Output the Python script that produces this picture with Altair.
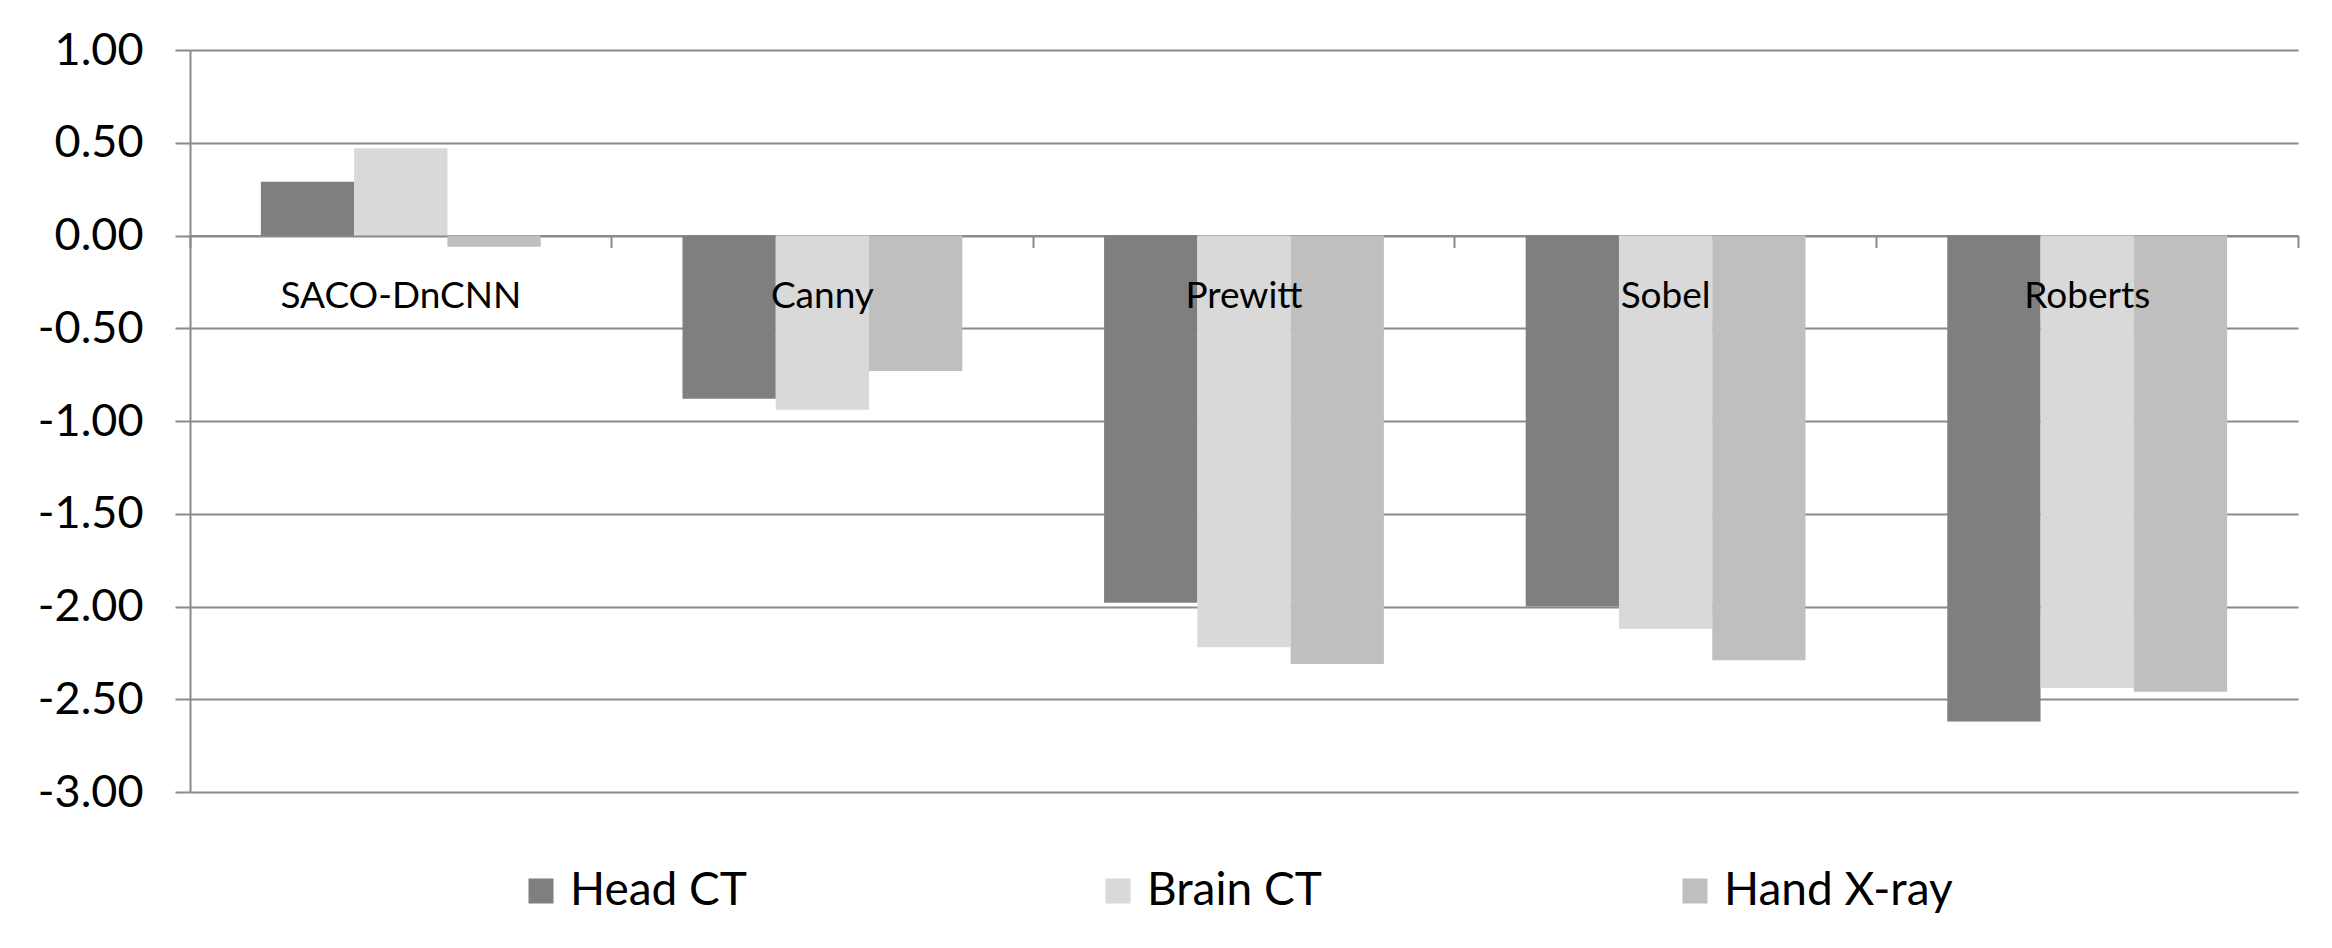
import altair as alt
import pandas as pd

categories = ["SACO-DnCNN", "Canny", "Prewitt", "Sobel", "Roberts"]
series = ["Head CT", "Brain CT", "Hand X-ray"]
head_ct = [0.29, -0.88, -1.98, -2.00, -2.62]
brain_ct = [0.47, -0.94, -2.22, -2.12, -2.44]
hand_xray = [-0.06, -0.73, -2.31, -2.29, -2.46]
colors = ["#7f7f7f", "#d9d9d9", "#bfbfbf"]
y_ticks = [1.0, 0.5, 0.0, -0.5, -1.0, -1.5, -2.0, -2.5, -3.0]

rows = []
for name, vals in zip(series, [head_ct, brain_ct, hand_xray]):
    for c, v in zip(categories, vals):
        rows.append({"Method": c, "Series": name, "Value": v})
df = pd.DataFrame(rows)
cat_df = pd.DataFrame({"Method": categories})

FONT = "Lato"
GRID = "#8a8a8a"
W, H = 2108, 742
zero_offset = -(H - H * 1.0 / 4.0)

x_scale = alt.Scale(domain=categories, paddingInner=0, paddingOuter=0)

bars = alt.Chart(df).mark_bar().encode(
    x=alt.X("Method:N", scale=x_scale, sort=categories,
            axis=alt.Axis(title=None, labels=False, orient="bottom", offset=zero_offset,
                          domain=True, domainColor=GRID, domainWidth=2,
                          ticks=True, tickSize=12, tickColor=GRID, tickWidth=2,
                          bandPosition=1, tickExtra=True, grid=False)),
    xOffset=alt.XOffset("Series:N", sort=series,
                        scale=alt.Scale(domain=series, paddingInner=0, paddingOuter=0.76)),
    y=alt.Y("Value:Q", scale=alt.Scale(domain=[-3, 1], nice=False, zero=False),
            axis=alt.Axis(title=None, values=y_ticks,
                          labelExpr="datum.value < 0 ? '-' + format(-datum.value, '.2f') : format(datum.value, '.2f')",
                          labelFont=FONT, labelFontSize=45, labelColor="#000000",
                          labelPadding=32, tickSize=15, tickColor=GRID, tickWidth=2,
                          domain=True, domainColor=GRID, domainWidth=2,
                          grid=True, gridColor=GRID, gridWidth=2)),
    color=alt.Color("Series:N", sort=series,
                    scale=alt.Scale(domain=series, range=colors),
                    legend=alt.Legend(title=None, orient="none", direction="horizontal",
                                      columns=3, legendX=328, legendY=818,
                                      symbolType="square", symbolSize=625,
                                      symbolStrokeWidth=0, labelFont=FONT,
                                      labelFontSize=46, labelColor="#000000",
                                      labelLimit=600, labelOffset=6,
                                      columnPadding=296, gridAlign="all")),
)

labels = alt.Chart(cat_df).mark_text(font=FONT, fontSize=37, color="#000000",
                                     baseline="middle", align="center", dy=61).encode(
    x=alt.X("Method:N", scale=x_scale, sort=categories),
    y=alt.datum(0),
    text="Method:N",
)

chart = alt.layer(bars, labels).properties(
    width=W, height=H,
    autosize=alt.AutoSizeParams(type="none"),
    padding={"left": 182, "top": 42, "right": 26, "bottom": 140},
).configure_view(strokeWidth=0)

chart.save("out.html", embed_options={"renderer": "svg", "actions": False})
